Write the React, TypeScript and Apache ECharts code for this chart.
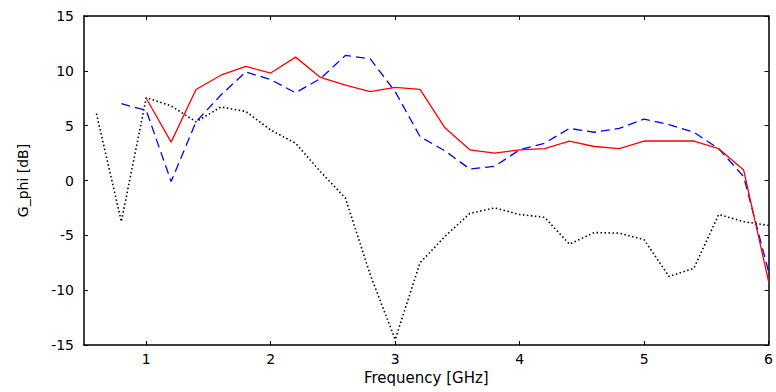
import React, { useEffect, useRef } from "react";
import * as echarts from "echarts";

const freq = [0.6, 0.8, 1.0, 1.2, 1.4, 1.6, 1.8, 2.0, 2.2, 2.4, 2.6, 2.8, 3.0, 3.2, 3.4, 3.6, 3.8, 4.0, 4.2, 4.4, 4.6, 4.8, 5.0, 5.2, 5.4, 5.6, 5.8, 6.0];
const redVals = [null, null, 7.5, 3.5, 8.3, 9.6, 10.4, 9.8, 11.25, 9.4, 8.7, 8.1, 8.5, 8.3, 4.8, 2.8, 2.5, 2.8, 2.9, 3.6, 3.1, 2.9, 3.6, 3.6, 3.6, 2.9, 0.95, -9.2];
const blueVals = [null, 7.0, 6.4, -0.1, 5.35, 7.8, 9.9, 9.2, 8.0, 9.3, 11.4, 11.1, 8.1, 4.0, 2.7, 1.05, 1.3, 2.8, 3.4, 4.75, 4.4, 4.75, 5.6, 5.1, 4.4, 2.9, 0.35, -8.3];
const blackVals = [6.1, -3.75, 7.55, 6.8, 5.35, 6.7, 6.3, 4.6, 3.4, 0.8, -1.6, -8.6, -14.5, -7.5, -5.1, -3.0, -2.5, -3.1, -3.35, -5.8, -4.75, -4.8, -5.4, -8.75, -8.0, -3.1, -3.75, -4.1];
const xTicks = [1, 2, 3, 4, 5, 6];
const yTicks = [-15, -10, -5, 0, 5, 10, 15];

const pairs = (vals: (number | null)[]) =>
  freq.map((f, i) => [f, vals[i]]).filter((p) => p[1] !== null);

export default function App() {
  const ref = useRef<HTMLDivElement>(null);
  useEffect(() => {
    document.body.style.margin = "0";
    const chart = echarts.init(ref.current!, null, { renderer: "svg" });
    const font = "DejaVu Sans";
    const axisLine = { show: true, onZero: false, lineStyle: { color: "#000", width: 1.5 } };
    const tickStyle = { show: true, inside: true, length: 4, lineStyle: { color: "#000", width: 1 } };
    chart.setOption({
      animation: false,
      backgroundColor: "#fff",
      grid: { left: 84, right: 4, top: 16, bottom: 47 },
      xAxis: [
        {
          type: "value",
          min: 0.5,
          max: 6,
          position: "bottom",
          axisLine,
          axisTick: { ...tickStyle, customValues: xTicks },
          axisLabel: { customValues: xTicks, color: "#000", fontFamily: font, fontSize: 14, margin: 7 },
          splitLine: { show: false },
          name: "Frequency [GHz]",
          nameLocation: "middle",
          nameGap: 22,
          nameTextStyle: { color: "#000", fontFamily: font, fontSize: 15 },
        },
        {
          type: "value",
          min: 0.5,
          max: 6,
          position: "top",
          axisLine,
          axisTick: { ...tickStyle, customValues: xTicks },
          axisLabel: { show: false },
          splitLine: { show: false },
        },
      ],
      yAxis: [
        {
          type: "value",
          min: -15,
          max: 15,
          interval: 5,
          position: "left",
          axisLine,
          axisTick: { ...tickStyle, customValues: yTicks },
          axisLabel: { color: "#000", fontFamily: font, fontSize: 14, margin: 10 },
          splitLine: { show: false },
          name: "G_phi [dB]",
          nameLocation: "middle",
          nameGap: 54,
          nameRotate: 90,
          nameTextStyle: { color: "#000", fontFamily: font, fontSize: 14 },
        },
        {
          type: "value",
          min: -15,
          max: 15,
          interval: 5,
          position: "right",
          axisLine,
          axisTick: { ...tickStyle, customValues: yTicks },
          axisLabel: { show: false },
          splitLine: { show: false },
        },
      ],
      series: [
        {
          type: "line",
          data: pairs(blackVals),
          symbol: "none",
          lineStyle: { color: "#000", width: 1.6, type: [1.5, 2.5] },
          z: 1,
        },
        {
          type: "line",
          data: pairs(blueVals),
          symbol: "none",
          lineStyle: { color: "#0000ff", width: 1.3, type: [9, 5] },
          z: 2,
        },
        {
          type: "line",
          data: pairs(redVals),
          symbol: "none",
          lineStyle: { color: "#ff0000", width: 1.3 },
          z: 3,
        },
      ],
    });
    return () => chart.dispose();
  }, []);
  return <div ref={ref} style={{ width: 776, height: 392 }} />;
}
